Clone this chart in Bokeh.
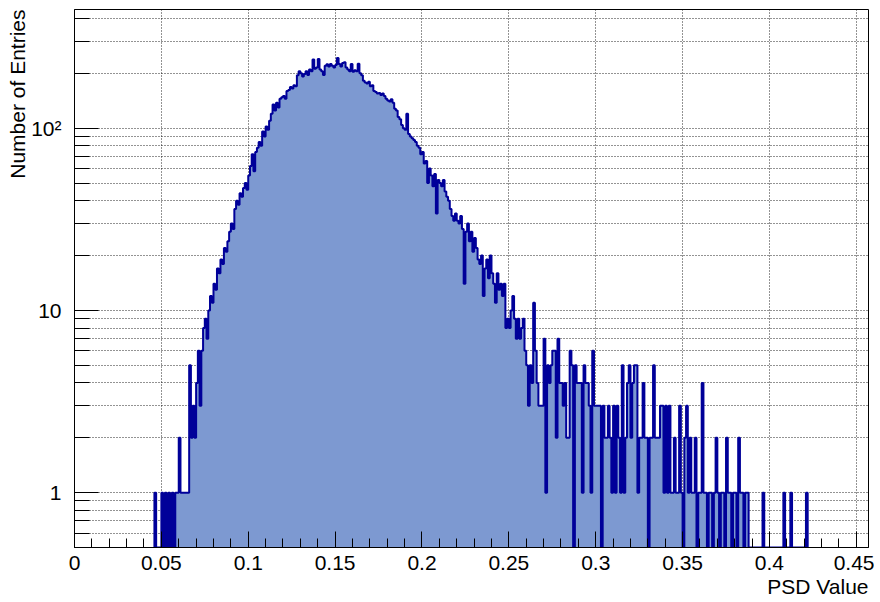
import numpy as np
from bokeh.plotting import figure
from bokeh.models import Range1d, FixedTicker, Title
from bokeh.embed import file_html
from bokeh.resources import INLINE

# ---------------- data ----------------
bin_start = 0.046      # left edge of first listed bin
bin_width = 0.001
counts = [
    1, 0, 0, 0, 1, 0, 1, 0, 1, 0,            # 0.046
    1, 0, 1, 1, 2, 1, 1, 1, 1, 1,            # 0.056
    5, 2, 3, 2, 4, 6, 3, 6, 8, 9,            # 0.066
    7, 10, 12, 11, 14, 13, 17, 16, 19, 18,   # 0.076
    22, 21, 24, 27, 30, 28, 36, 40, 38, 44,  # 0.086
    42, 47, 50, 46, 55, 62, 72, 58, 74, 78,  # 0.096
    84, 80, 96, 90, 102, 98, 110, 120, 135, 125,      # 0.106
    138, 130, 145, 148, 150, 145, 160, 162, 168, 165, # 0.116
    172, 170, 195, 205, 200, 192, 198, 205, 196, 210, # 0.126
    205, 238, 212, 215, 240, 210, 205, 196, 220, 224, # 0.136
    218, 225, 220, 215, 222, 243, 225, 218, 228, 230, # 0.146
    215, 210, 205, 225, 204, 208, 205, 226, 200, 195, # 0.156
    182, 178, 176, 180, 170, 172, 160, 158, 155, 156, # 0.166
    152, 155, 150, 145, 142, 140, 144, 138, 128, 125, # 0.176
    115, 112, 104, 100, 98, 120, 93, 90, 88, 86,      # 0.186
    84, 80, 78, 72, 74, 64, 66, 50, 60, 55,  # 0.196
    48, 56, 34, 52, 50, 48, 52, 45, 42, 40,  # 0.206
    36, 33, 31, 34, 31, 30, 33, 28, 14, 27,  # 0.216
    30, 24, 27, 21, 25, 22, 19, 18, 20, 12,  # 0.226
    17, 19, 15, 20, 16, 14, 11, 16, 13, 14,  # 0.236
    12, 14, 8, 9, 8, 10, 12, 9, 7, 9,        # 0.246
    7, 8, 9, 6, 5, 3, 5, 4, 11, 6,           # 0.256
    4, 3, 3, 3, 7, 1, 5, 4, 5, 6,            # 0.266
    6, 2, 7, 4, 4, 3, 4, 2, 2, 6,            # 0.276
    5, 0, 5, 4, 4, 4, 1, 5, 4, 4,            # 0.286
    3, 1, 6, 3, 3, 3, 3, 0, 3, 2,            # 0.296
    2, 3, 2, 1, 3, 1, 3, 2, 1, 5,            # 0.306
    1, 2, 4, 5, 2, 4, 5, 5, 1, 2,            # 0.316
    2, 4, 2, 2, 0, 2, 2, 5, 2, 2,            # 0.326
    2, 3, 3, 1, 3, 1, 3, 1, 1, 2,            # 0.336
    1, 1, 3, 1, 0, 2, 3, 1, 2, 1,            # 0.346
    1, 2, 0, 1, 1, 4, 1, 1, 0, 1,            # 0.356
    1, 0, 1, 2, 1, 0, 1, 1, 0, 2,            # 0.366
    1, 1, 0, 1, 1, 0, 2, 1, 1, 0,            # 0.376
    1, 1, 0, 0, 0, 0, 0, 0, 0, 0,            # 0.386
    1, 0, 0, 0, 0, 0, 0, 0, 0, 0,            # 0.396
    0, 0, 1, 0, 0, 0, 1, 0, 0, 0,            # 0.406
    0, 0, 0, 0, 0, 1,                        # 0.416
]
x_ticks = [0.0, 0.05, 0.1, 0.15, 0.2, 0.25, 0.3, 0.35, 0.4, 0.45]
x_tick_labels = ["0", "0.05", "0.1", "0.15", "0.2", "0.25", "0.3", "0.35", "0.4", "0.45"]
x_minor = [round(i * 0.01, 2) for i in range(0, 46)]
y_ticks = [1, 10, 100]
y_tick_labels = {1: "1", 10: "10", 100: "10\u00b2"}
y_minor = [0.6, 0.7, 0.8, 0.9, 2, 3, 4, 5, 6, 7, 8, 9,
           20, 30, 40, 50, 60, 70, 80, 90, 200, 300, 400]
x_title = "PSD Value"
y_title = "Number of Entries"

X_MIN, X_MAX = 0.0, 0.457
Y_MIN, Y_MAX = 0.5, 448.0

# ---------------- geometry from data ----------------
c = np.array(counts, dtype=float)
n = len(c)
edges = bin_start + bin_width * np.arange(n + 1)
yv = np.where(c > 0, c, Y_MIN)
ox = [edges[0]]
oy = [Y_MIN]
for i in range(n):
    ox += [edges[i], edges[i + 1]]
    oy += [yv[i], yv[i]]
ox.append(edges[-1])
oy.append(Y_MIN)

FONT = "Liberation Sans"
p = figure(width=874, height=598, y_axis_type="log",
           x_range=Range1d(X_MIN, X_MAX), y_range=Range1d(Y_MIN, Y_MAX),
           output_backend="svg", toolbar_location=None,
           min_border_left=74, min_border_right=6, min_border_top=9,
           min_border_bottom=51)
p.background_fill_color = "white"
p.border_fill_color = "white"
p.outline_line_color = "black"
p.outline_line_width = 1

# fill + outline
p.patch(ox, oy, fill_color="#7d99d1", line_color=None)
p.line(ox, oy, line_color="#000099", line_width=2)

# axes
xa = p.xaxis[0]
xa.ticker = FixedTicker(ticks=x_ticks, minor_ticks=x_minor)
xa.major_label_overrides = {t: l for t, l in zip(x_ticks, x_tick_labels)}
ya = p.yaxis[0]
ya.ticker = FixedTicker(ticks=y_ticks, minor_ticks=y_minor)
ya.major_label_overrides = y_tick_labels

for ax in (xa, ya):
    ax.axis_line_color = "black"
    ax.axis_line_width = 1
    ax.major_tick_line_color = "black"
    ax.minor_tick_line_color = "black"
    ax.major_tick_out = 0
    ax.minor_tick_out = 0
    ax.major_label_text_font = FONT
    ax.major_label_text_font_size = "21px"
    ax.major_label_text_color = "black"
xa.major_tick_in = 16
xa.minor_tick_in = 9
xa.major_label_standoff = 8
ya.major_tick_in = 24
ya.minor_tick_in = 15
ya.major_label_standoff = 13

# grids
for g in (p.xgrid[0], p.ygrid[0]):
    g.grid_line_color = "black"
    g.grid_line_dash = "1 2"
    g.grid_line_width = 1
    g.grid_line_alpha = 0.85
p.ygrid[0].minor_grid_line_color = "black"
p.ygrid[0].minor_grid_line_dash = "1 2"
p.ygrid[0].minor_grid_line_alpha = 0.85
p.xgrid[0].ticker = xa.ticker
p.ygrid[0].ticker = ya.ticker

# axis titles, end-aligned as in the original
p.add_layout(Title(text=x_title, align="right", text_font=FONT, text_font_size="21px",
                   text_font_style="normal", text_color="black", standoff=0), "below")
p.add_layout(Title(text=y_title, align="right", text_font=FONT, text_font_size="21px",
                   text_font_style="normal", text_color="black", standoff=0), "left")

open("out.html", "w").write(file_html(p, INLINE))
